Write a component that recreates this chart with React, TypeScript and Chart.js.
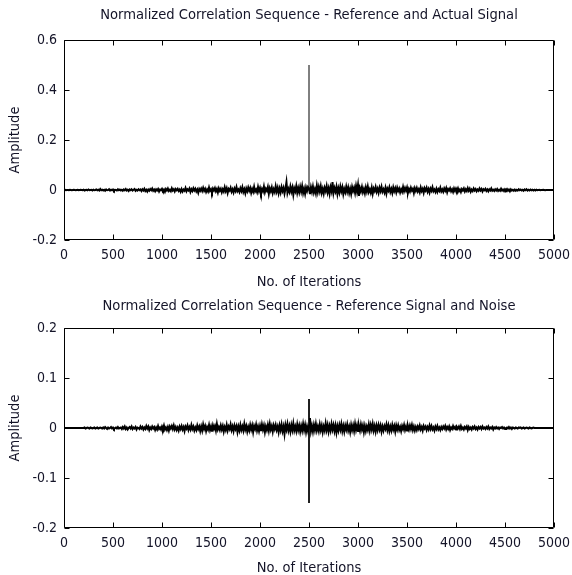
import React, { useEffect, useRef } from 'react';
import { Chart, registerables } from 'chart.js';

Chart.register(...registerables);

// ---------- data ----------
const ITER_STEP = 10; // iterations between stored samples

const topTitle = 'Normalized Correlation Sequence - Reference and Actual Signal';
const bottomTitle = 'Normalized Correlation Sequence - Reference Signal and Noise';
const xAxisTitle = 'No. of Iterations';
const yAxisTitle = 'Amplitude';

const xTickValues = [0, 500, 1000, 1500, 2000, 2500, 3000, 3500, 4000, 4500, 5000];
const topYTickValues = [-0.2, 0, 0.2, 0.4, 0.6];
const bottomYTickValues = [-0.2, -0.1, 0, 0.1, 0.2];

// correlation of reference with actual signal (one sample every 10 iterations)
const topNoise = [
  0.000, 0.001, -0.001, 0.000, 0.000, -0.001, 0.001, 0.000, -0.001, 0.000, 0.001, 0.000, -0.001, 0.000, 0.001, -0.001, 0.000, 0.001, 0.000, -0.001,
  0.001, -0.002, 0.000, 0.001, -0.001, 0.002, -0.001, 0.000, 0.001, -0.002, 0.001, -0.001, 0.000, 0.002, -0.001, 0.001, -0.002, 0.004, -0.001, 0.001,
  -0.002, 0.001, -0.003, 0.002, -0.001, 0.000, 0.003, -0.002, 0.001, -0.001, 0.002, -0.003, 0.001, 0.000, -0.002, 0.003, -0.001, 0.002, -0.002, 0.001,
  -0.003, 0.002, -0.001, 0.004, -0.002, 0.001, -0.004, 0.002, -0.001, 0.003, -0.002, 0.001, 0.004, -0.003, 0.001, -0.002, 0.003, -0.001, 0.002, -0.004,
  0.003, -0.002, 0.005, -0.004, 0.001, -0.006, 0.002, -0.003, 0.004, -0.001, 0.006, -0.003, 0.002, -0.005, 0.003, -0.002, 0.004, -0.006, 0.002, -0.001,
  0.005, -0.003, 0.002, -0.007, 0.004, -0.002, 0.006, -0.004, 0.001, -0.005, 0.007, -0.002, 0.003, -0.006, 0.004, -0.001, 0.005, -0.004, 0.002, -0.007,
  0.004, -0.006, 0.002, -0.003, 0.008, -0.005, 0.003, -0.002, 0.006, -0.008, 0.003, -0.004, 0.007, -0.002, 0.005, -0.006, 0.002, -0.011, 0.004, -0.003,
  0.006, -0.004, 0.009, -0.003, 0.005, -0.008, 0.002, -0.006, 0.010, -0.004, 0.003, -0.009, 0.006, -0.002, 0.008, -0.005, 0.004, -0.010, 0.007, -0.003,
  0.005, -0.009, 0.003, -0.006, 0.011, -0.004, 0.007, -0.012, 0.004, -0.002, 0.009, -0.007, 0.003, -0.010, 0.006, -0.004, 0.012, -0.005, 0.002, -0.008,
  0.007, -0.004, 0.011, -0.008, 0.003, -0.013, 0.006, -0.005, 0.010, -0.003, 0.008, -0.011, 0.004, -0.007, 0.013, -0.006, 0.002, -0.009, 0.012, -0.005,
  0.008, -0.011, 0.004, -0.006, 0.014, -0.009, 0.005, -0.003, 0.012, -0.015, 0.007, -0.005, 0.010, -0.012, 0.003, -0.008, 0.015, -0.006, 0.009, -0.013,
  0.006, -0.010, 0.012, -0.004, 0.009, -0.014, 0.005, 0.032, -0.012, 0.004, -0.008, 0.014, -0.006, 0.010, -0.019, 0.007, -0.005, 0.016, -0.011, 0.008,
  -0.009, 0.013, -0.006, 0.016, -0.012, 0.005, -0.015, 0.010, -0.004, 0.012, 0.006, -0.016, 0.011, -0.007, 0.014, -0.010, 0.004, -0.013, 0.017, -0.008,
  0.012, -0.006, 0.015, -0.011, 0.005, -0.014, 0.009, -0.004, 0.016, -0.010, 0.007, -0.015, 0.011, -0.005, 0.032, -0.012, 0.008, -0.006, 0.013, -0.016,
  0.007, -0.010, 0.014, -0.005, 0.011, -0.016, 0.004, -0.009, 0.013, -0.007, 0.010, -0.012, 0.005, -0.015, 0.012, -0.004, 0.009, -0.011, 0.016, -0.006,
  0.020, -0.024, 0.008, -0.005, 0.012, -0.009, 0.004, -0.013, 0.010, -0.006, 0.014, -0.008, 0.003, -0.011, 0.009, -0.015, 0.006, -0.004, 0.012, -0.007,
  0.005, -0.011, 0.009, -0.004, 0.013, -0.007, 0.003, -0.010, 0.008, -0.014, 0.006, -0.003, 0.011, -0.008, 0.004, -0.012, 0.010, -0.005, 0.007, -0.009,
  0.009, -0.004, 0.006, -0.010, 0.003, -0.007, 0.012, -0.005, 0.008, -0.003, 0.010, -0.011, 0.004, -0.006, 0.009, -0.002, 0.005, -0.012, 0.007, -0.004,
  0.008, -0.006, 0.003, -0.009, 0.010, -0.004, 0.005, -0.011, 0.007, -0.002, 0.009, -0.007, 0.004, -0.010, 0.006, -0.003, 0.011, -0.005, 0.002, -0.008,
  0.005, -0.008, 0.003, -0.004, 0.009, -0.006, 0.002, -0.007, 0.006, -0.003, 0.008, -0.009, 0.004, -0.002, 0.007, -0.005, 0.003, -0.008, 0.006, -0.004,
  0.006, -0.003, 0.007, -0.005, 0.002, -0.008, 0.004, -0.002, 0.006, -0.006, 0.003, -0.004, 0.008, -0.003, 0.005, -0.007, 0.002, -0.004, 0.006, -0.002,
  0.004, -0.005, 0.002, -0.003, 0.006, -0.002, 0.004, -0.006, 0.003, -0.001, 0.005, -0.004, 0.002, -0.005, 0.003, -0.002, 0.006, -0.003, 0.001, -0.004,
  0.003, -0.002, 0.004, -0.004, 0.001, -0.003, 0.005, -0.002, 0.002, -0.004, 0.003, -0.001, 0.004, -0.003, 0.002, -0.005, 0.003, -0.002, 0.001, -0.003,
  0.002, -0.003, 0.001, -0.002, 0.003, -0.001, 0.002, -0.002, 0.001, -0.003, 0.002, -0.001, 0.003, -0.002, 0.001, -0.002, 0.002, -0.001, 0.001, -0.002,
  0.001, -0.002, 0.001, -0.001, 0.000, 0.001, -0.001, 0.000, 0.000, 0.001, 0.000, -0.001, 0.000, 0.000, 0.000, 0.000, 0.000, 0.000, 0.000, 0.000,
  0.000,
];

// correlation of reference with noise (one sample every 10 iterations)
const bottomNoise = [
  0.000, 0.000, 0.000, 0.000, 0.000, 0.000, 0.000, 0.000, 0.000, 0.000, 0.000, 0.000, 0.000, 0.000, 0.000, 0.000, 0.000, 0.000, 0.000, 0.000,
  0.000, 0.001, -0.001, 0.000, 0.001, 0.000, -0.001, 0.001, 0.000, -0.001, 0.000, 0.001, -0.001, 0.000, 0.001, -0.001, 0.000, 0.001, 0.000, -0.001,
  0.001, -0.001, 0.002, 0.000, -0.002, 0.001, -0.001, 0.000, 0.002, -0.001, 0.001, -0.002, 0.000, 0.001, -0.001, 0.002, -0.001, 0.000, 0.001, -0.002,
  0.002, -0.001, 0.003, -0.002, 0.001, -0.003, 0.000, 0.002, -0.001, 0.003, -0.002, 0.001, -0.001, 0.002, -0.003, 0.001, 0.000, -0.002, 0.003, -0.001,
  0.002, -0.003, 0.001, -0.002, 0.004, -0.001, 0.003, -0.004, 0.001, -0.002, 0.003, -0.001, 0.002, -0.004, 0.001, -0.003, 0.004, -0.002, 0.001, -0.003,
  0.003, -0.002, 0.005, -0.003, 0.001, -0.004, 0.002, -0.005, 0.003, -0.001, 0.004, -0.002, 0.005, -0.003, 0.002, -0.004, 0.001, -0.005, 0.003, -0.002,
  0.004, -0.003, 0.002, -0.006, 0.003, -0.001, 0.005, -0.004, 0.002, -0.003, 0.006, -0.002, 0.003, -0.005, 0.001, -0.004, 0.005, -0.002, 0.003, -0.006,
  0.003, -0.005, 0.007, -0.002, 0.004, -0.006, 0.002, -0.003, 0.006, -0.004, 0.003, -0.007, 0.005, -0.002, 0.004, -0.005, 0.008, -0.003, 0.002, -0.004,
  0.005, -0.003, 0.004, -0.007, 0.002, -0.004, 0.006, -0.005, 0.003, -0.002, 0.007, -0.004, 0.003, -0.006, 0.005, -0.002, 0.004, -0.008, 0.003, -0.005,
  0.006, -0.004, 0.003, -0.005, 0.008, -0.003, 0.004, -0.007, 0.002, -0.005, 0.006, -0.003, 0.005, -0.008, 0.004, -0.002, 0.007, -0.005, 0.003, -0.006,
  0.004, -0.006, 0.007, -0.003, 0.005, -0.008, 0.003, -0.004, 0.006, -0.005, 0.008, -0.003, 0.004, -0.007, 0.005, -0.002, 0.006, -0.004, 0.003, -0.008,
  0.005, -0.004, 0.007, -0.006, 0.003, -0.012, 0.006, -0.003, 0.008, -0.005, 0.004, -0.007, 0.006, -0.004, 0.009, -0.005, 0.003, -0.006, 0.007, -0.004,
  0.005, -0.007, 0.004, -0.005, 0.008, -0.004, 0.006, -0.008, 0.003, -0.006, 0.005, 0.020, -0.006, 0.004, -0.007, 0.006, -0.004, 0.008, -0.005, 0.003,
  -0.006, 0.007, -0.004, 0.005, -0.008, 0.003, -0.005, 0.009, -0.004, 0.006, -0.007, 0.004, -0.005, 0.008, -0.003, 0.006, -0.006, 0.005, -0.009, 0.004,
  -0.005, 0.006, -0.003, 0.008, -0.006, 0.004, -0.007, 0.005, -0.003, 0.007, -0.005, 0.003, -0.008, 0.006, -0.004, 0.005, -0.006, 0.008, -0.004, 0.005,
  -0.006, 0.004, -0.005, 0.007, -0.003, 0.005, -0.008, 0.004, -0.006, 0.003, -0.004, 0.007, -0.005, 0.006, -0.003, 0.008, -0.005, 0.004, -0.007, 0.005,
  -0.004, 0.006, -0.003, 0.005, -0.007, 0.003, -0.005, 0.004, -0.002, 0.007, -0.004, 0.005, -0.006, 0.003, -0.005, 0.006, -0.003, 0.004, -0.007, 0.005,
  -0.003, 0.005, -0.004, 0.002, -0.006, 0.004, -0.002, 0.006, -0.004, 0.003, -0.005, 0.004, -0.003, 0.005, -0.002, 0.006, -0.004, 0.003, -0.005, 0.002,
  -0.004, 0.003, -0.002, 0.005, -0.003, 0.002, -0.005, 0.004, -0.001, 0.003, -0.004, 0.002, -0.003, 0.005, -0.002, 0.004, -0.003, 0.001, -0.005, 0.003,
  -0.002, 0.004, -0.003, 0.001, -0.004, 0.002, -0.002, 0.003, -0.001, 0.004, -0.003, 0.002, -0.002, 0.003, -0.004, 0.001, -0.002, 0.004, -0.001, 0.002,
  -0.003, 0.002, -0.001, 0.003, -0.002, 0.004, -0.002, 0.001, -0.003, 0.002, -0.001, 0.003, -0.004, 0.002, -0.002, 0.001, -0.003, 0.002, -0.001, 0.003,
  -0.002, 0.001, -0.003, 0.002, -0.001, 0.002, -0.002, 0.003, -0.001, 0.001, -0.002, 0.002, -0.001, 0.003, -0.002, 0.001, -0.001, 0.002, -0.003, 0.001,
  -0.001, 0.002, -0.001, 0.001, -0.002, 0.001, 0.000, 0.002, -0.001, 0.001, -0.002, 0.000, 0.001, -0.001, 0.002, -0.001, 0.001, -0.002, 0.001, 0.000,
  -0.001, 0.001, 0.000, -0.001, 0.001, 0.000, 0.001, -0.001, 0.000, 0.001, -0.001, 0.000, 0.001, 0.000, -0.001, 0.001, 0.000, -0.001, 0.000, 0.001,
  0.000, 0.000, 0.000, 0.000, 0.000, 0.000, 0.000, 0.000, 0.000, 0.000, 0.000, 0.000, 0.000, 0.000, 0.000, 0.000, 0.000, 0.000, 0.000, 0.000,
  0.000,
];

// correlation peak at lag 2500
const topPeakX = [2500, 2500];
const topPeakY = [0.0, 0.5];
const bottomPeakX = [2500, 2500];
const bottomPeakY = [0.058, -0.15];

// ---------- styling ----------
const FONT = '"Liberation Sans Narrow", "DejaVu Sans Condensed", "Arial Narrow", sans-serif';
const TEXT = '#141428';

const boxPlugin = {
  id: 'matlabBox',
  afterDatasetsDraw(chart: any) {
    const { ctx, chartArea: a, scales } = chart;
    const L = Math.round(a.left) + 0.5;
    const R = Math.round(a.right) - 0.5;
    const T = Math.round(a.top) + 0.5;
    const B = Math.round(a.bottom) - 0.5;
    const tick = 5;
    ctx.save();
    ctx.strokeStyle = '#000';
    ctx.lineWidth = 1;
    ctx.beginPath();
    ctx.rect(L, T, R - L, B - T);
    scales.x.ticks.forEach((t: any) => {
      const x = Math.round(scales.x.getPixelForValue(t.value)) + 0.5;
      ctx.moveTo(x, B); ctx.lineTo(x, B - tick);
      ctx.moveTo(x, T); ctx.lineTo(x, T + tick);
    });
    scales.y.ticks.forEach((t: any) => {
      const y = Math.round(scales.y.getPixelForValue(t.value)) + 0.5;
      ctx.moveTo(L, y); ctx.lineTo(L + tick, y);
      ctx.moveTo(R, y); ctx.lineTo(R - tick, y);
    });
    ctx.stroke();
    ctx.restore();
  },
};

function fmt(v: number) {
  return String(Number(v.toFixed(3)));
}

function makeConfig(
  title: string,
  noise: number[],
  peakX: number[],
  peakY: number[],
  yTicks: number[],
  titleTop: number,
  topHeight: number,
  xHeight: number,
) {
  const noisePts = noise.map((v, i) => ({ x: i * ITER_STEP, y: v }));
  const peakPts = peakX.map((x, i) => ({ x, y: peakY[i] }));
  return {
    type: 'scatter' as const,
    data: {
      datasets: [
        {
          data: noisePts,
          showLine: true,
          borderColor: '#000',
          borderWidth: 2,
          pointRadius: 0,
          tension: 0,
        },
        {
          data: peakPts,
          showLine: true,
          borderColor: '#000',
          borderWidth: 1,
          pointRadius: 0,
        },
      ],
    },
    options: {
      animation: false as const,
      responsive: false,
      maintainAspectRatio: false,
      events: [],
      layout: { padding: { left: 0, right: 18, top: 0, bottom: 0 } },
      plugins: {
        legend: { display: false },
        tooltip: { enabled: false },
        title: { display: false },
      },
      scales: {
        x: {
          type: 'linear' as const,
          position: 'bottom' as const,
          min: 0,
          max: 5000,
          afterBuildTicks: (s: any) => {
            s.ticks = xTickValues.map((v) => ({ value: v }));
          },
          afterFit: (s: any) => {
            s.height = xHeight;
            s.paddingLeft = 0;
            s.paddingRight = 0;
          },
          grid: { display: false, drawTicks: false },
          border: { display: false },
          ticks: {
            color: TEXT,
            padding: 7,
            maxRotation: 0,
            autoSkip: false,
            font: { family: FONT, size: 14 },
            callback: (v: any) => String(v),
          },
          title: {
            display: true,
            text: xAxisTitle,
            color: TEXT,
            padding: { top: 0, bottom: 0 },
            font: { family: FONT, size: 14.5, lineHeight: 1 },
          },
        },
        // top axis only carries the plot title, centred over the axes box
        xTitle: {
          type: 'linear' as const,
          position: 'top' as const,
          min: 0,
          max: 5000,
          afterFit: (s: any) => {
            s.height = topHeight;
            s.paddingLeft = 0;
            s.paddingRight = 0;
          },
          grid: { display: false, drawTicks: false },
          border: { display: false },
          ticks: { display: false },
          title: {
            display: true,
            text: title,
            color: TEXT,
            padding: { top: titleTop, bottom: 0 },
            font: { family: FONT, size: 14.6, lineHeight: 1.2 },
          },
        },
        y: {
          type: 'linear' as const,
          min: yTicks[0],
          max: yTicks[yTicks.length - 1],
          afterBuildTicks: (s: any) => {
            s.ticks = yTicks.map((v) => ({ value: v }));
          },
          afterFit: (s: any) => {
            s.width = 64;
          },
          grid: { display: false, drawTicks: false },
          border: { display: false },
          ticks: {
            color: TEXT,
            padding: 7,
            autoSkip: false,
            font: { family: FONT, size: 14 },
            callback: (v: any) => fmt(Number(v)),
          },
          title: {
            display: true,
            text: yAxisTitle,
            color: TEXT,
            padding: { top: 7, bottom: 0 },
            font: { family: FONT, size: 14.5, lineHeight: 1.2 },
          },
        },
      },
    },
    plugins: [boxPlugin],
  };
}

function Panel(props: {
  top: number;
  height: number;
  title: string;
  noise: number[];
  peakX: number[];
  peakY: number[];
  yTicks: number[];
  titleTop: number;
  topHeight: number;
  xHeight: number;
}) {
  const ref = useRef<HTMLCanvasElement | null>(null);
  useEffect(() => {
    if (!ref.current) return;
    const chart = new Chart(
      ref.current,
      makeConfig(
        props.title,
        props.noise,
        props.peakX,
        props.peakY,
        props.yTicks,
        props.titleTop,
        props.topHeight,
        props.xHeight,
      ) as any,
    );
    return () => chart.destroy();
  }, []);
  return (
    <canvas
      ref={ref}
      width={572}
      height={props.height}
      style={{ position: 'absolute', left: 0, top: props.top, width: 572, height: props.height }}
    />
  );
}

export default function App() {
  return (
    <div style={{ position: 'fixed', left: 0, top: 0, width: 572, height: 575, background: '#fff', overflow: 'hidden' }}>
      <Panel
        top={0}
        height={289}
        title={topTitle}
        noise={topNoise}
        peakX={topPeakX}
        peakY={topPeakY}
        yTicks={topYTickValues}
        titleTop={6}
        topHeight={40}
        xHeight={49}
      />
      <Panel
        top={287}
        height={288}
        title={bottomTitle}
        noise={bottomNoise}
        peakX={bottomPeakX}
        peakY={bottomPeakY}
        yTicks={bottomYTickValues}
        titleTop={10}
        topHeight={41}
        xHeight={47}
      />
    </div>
  );
}
